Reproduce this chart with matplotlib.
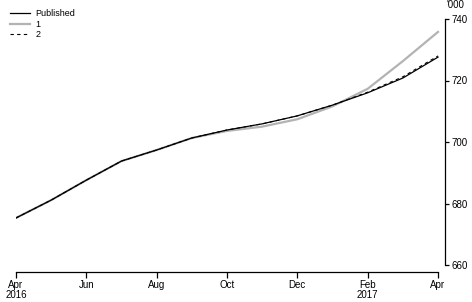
import matplotlib
matplotlib.use("Agg")
import matplotlib.pyplot as plt

months = ["Apr", "May", "Jun", "Jul", "Aug", "Sep", "Oct", "Nov", "Dec", "Jan", "Feb", "Mar", "Apr"]
published = [675.3, 681.1, 687.6, 693.8, 697.4, 701.3, 703.9, 705.9, 708.5, 712.0, 716.0, 720.8, 727.6]
series1 = [675.3, 681.1, 687.6, 693.8, 697.4, 701.3, 703.6, 705.0, 707.4, 711.6, 717.3, 726.3, 735.8]
series2 = [675.3, 681.1, 687.6, 693.8, 697.4, 701.3, 703.9, 705.9, 708.5, 712.0, 716.2, 721.2, 728.0]
tick_pos = [0, 2, 4, 6, 8, 10, 12]
tick_labels = ["Apr\n2016", "Jun", "Aug", "Oct", "Dec", "Feb\n2017", "Apr"]
y_ticks = [660, 680, 700, 720, 740]

plt.rcParams['font.family'] = ['Liberation Sans Narrow', 'Liberation Sans', 'DejaVu Sans']

W, H = 472, 302
fig = plt.figure(figsize=(W / 100, H / 100), dpi=100)
ax = fig.add_axes([16 / W, 30 / H, (445 - 16) / W, (272 - 19) / H])

x = list(range(len(months)))
ax.plot(x, series1, color="#b3b3b3", lw=1.6, label="1", zorder=2)
ax.plot(x, published, color="black", lw=0.9, label="Published", zorder=3)
ax.plot(x, series2, color="black", lw=0.8, ls=(0, (3, 3)), label="2", zorder=4)

ax.set_xlim(0, 12 + 7 / 35.17)
ax.set_ylim(660 - 7 / 3.075, 740)

ax.spines['left'].set_visible(False)
ax.spines['top'].set_visible(False)
ax.spines['right'].set_bounds(660, 740)
ax.spines['bottom'].set_bounds(0, 12)
for s in ('right', 'bottom'):
    ax.spines[s].set_linewidth(0.9)

ax.yaxis.tick_right()
ax.set_yticks(y_ticks)
ax.set_yticklabels([str(v) for v in y_ticks], fontsize=7)
ax.tick_params(axis='y', direction='out', length=3, width=0.9, pad=1.5)
ax.set_xticks(tick_pos)
ax.set_xticklabels(tick_labels, fontsize=7, linespacing=1.0)
ax.tick_params(axis='x', direction='out', length=4, width=0.9, pad=2)

ax.annotate("'000", xy=(1, 1), xycoords='axes fraction', xytext=(1, 10),
            textcoords='offset points', fontsize=7, ha='left', va='center')

handles, labels = ax.get_legend_handles_labels()
order = [1, 0, 2]
leg = ax.legend([handles[i] for i in order], [labels[i] for i in order],
                loc='upper left', bbox_to_anchor=(-12 / 429, 1 + 16 / 253),
                frameon=False, fontsize=6.5, handlelength=2.2, handletextpad=0.6,
                labelspacing=0.15, borderaxespad=0.3)

fig.savefig("out.png", dpi=100)
